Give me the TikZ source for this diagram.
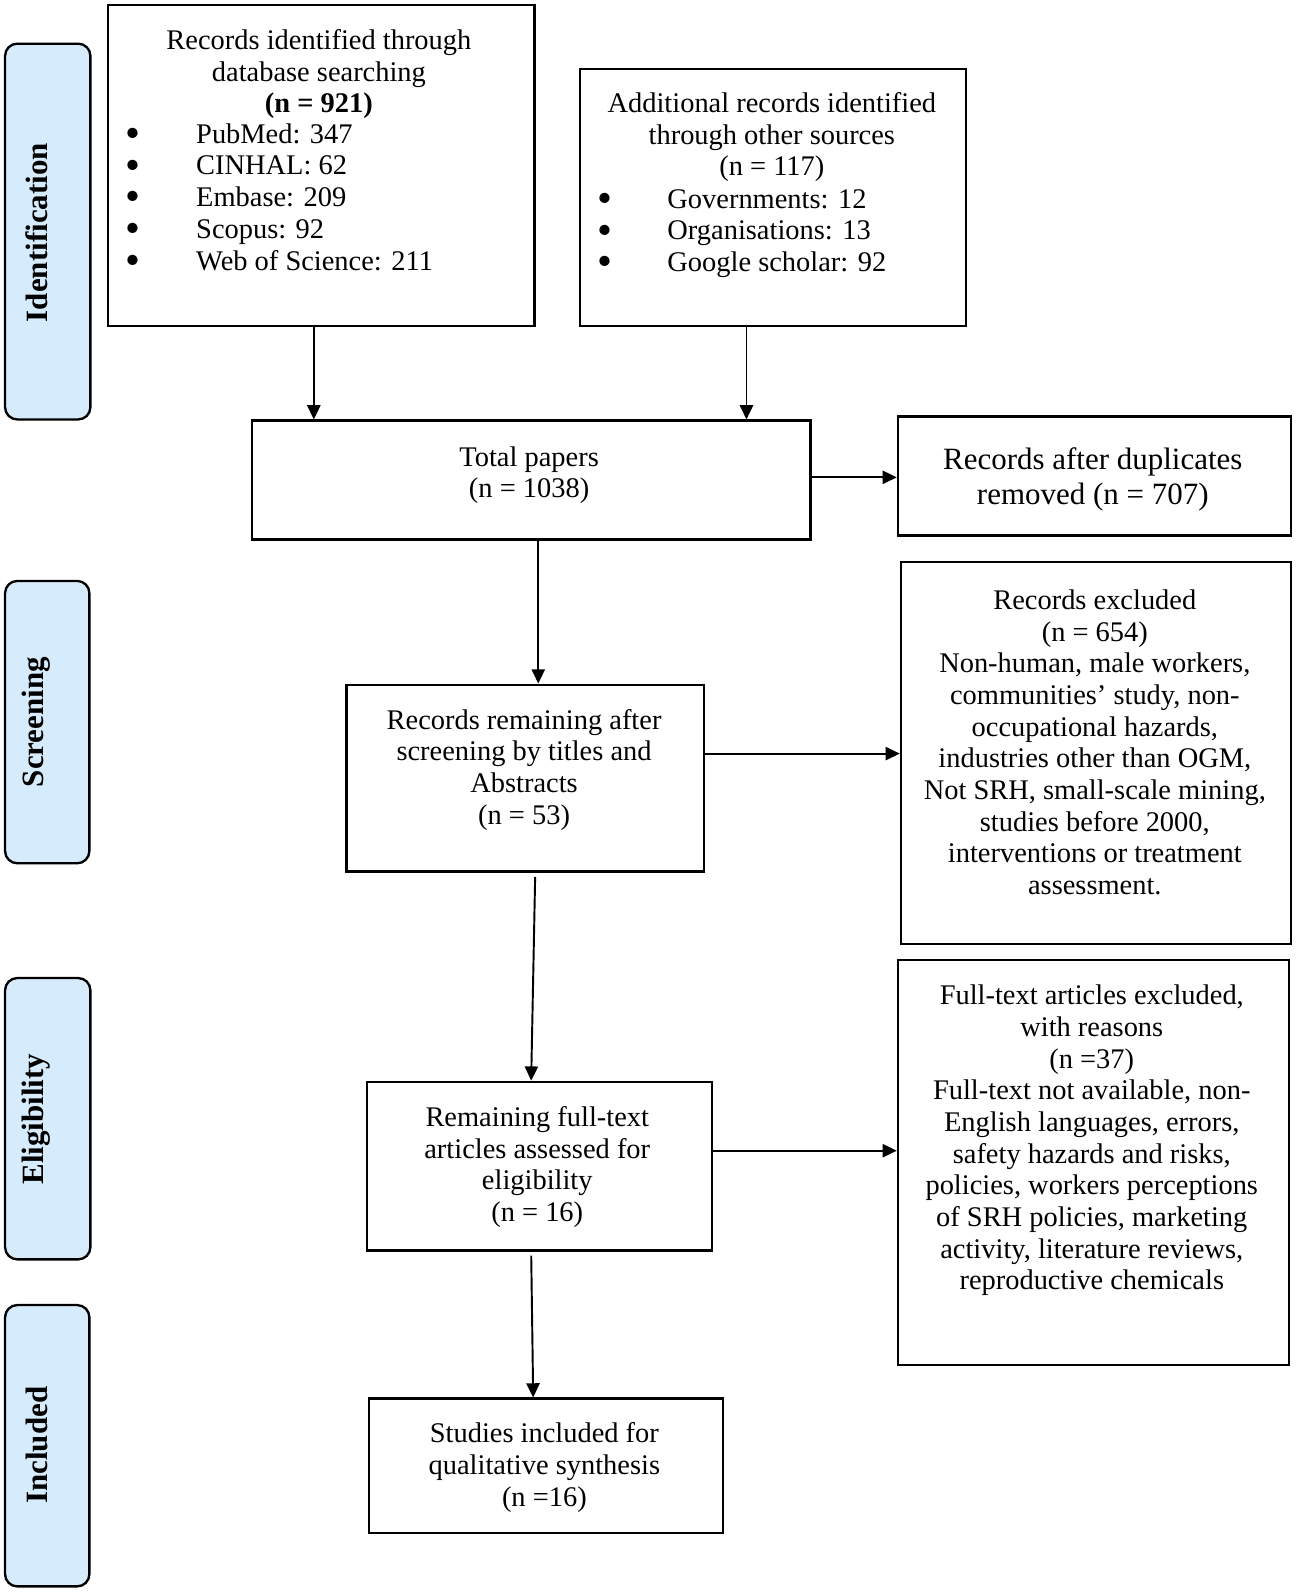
\documentclass[tikz,border=0pt]{standalone}
\usepackage{fontspec}
\setmainfont{Liberation Serif}
\usetikzlibrary{arrows.meta,calc}
\definecolor{bandblue}{RGB}{214,235,251}
\newcommand{\mybul}{\smash{\raisebox{-4pt}{\fontsize{42}{0}\selectfont•}}}
\begin{document}
\begin{tikzpicture}[x=1pt,y=-1pt,
  boxst/.style={draw=black,line width=2.3pt,rectangle,inner sep=0pt,anchor=north west},
  bandst/.style={draw=black,line width=2.3pt,fill=bandblue,rounded corners=12pt},
  txt/.style={align=center,inner sep=0pt,font=\fontsize{28}{31.2}\selectfont},
  lst/.style={align=left,inner sep=0pt,anchor=west,font=\fontsize{28}{31.2}\selectfont},
  bandtxt/.style={rotate=90,inner sep=0pt,font=\fontsize{30.5}{34}\selectfont\bfseries},
  arr/.style={line width=1.9pt,-{Triangle[length=14pt,width=13pt]}}]
\useasboundingbox (0,0) rectangle (1280,1569.5);
% side bands
\draw[bandst] (5,43) rectangle (89,413);
\draw[bandst] (5,572) rectangle (88,850);
\draw[bandst] (5,963) rectangle (89,1240);
\draw[bandst] (5,1285) rectangle (88,1562);
\node[bandtxt] (lid) at (36,229) {Identification};
\node[bandtxt] (lsc) at (36,711) {Screening};
\node[bandtxt] (lel) at (36,1102) {Eligibility};
\node[bandtxt] (lin) at (36,1423) {Included};
% boxes
\node[boxst,minimum width=420pt,minimum height=316pt] (b1) at (105,4) {};
\node[boxst,minimum width=380pt,minimum height=253pt] (b2) at (570,67) {};
\node[boxst,minimum width=550pt,minimum height=117pt] (tot) at (247,413) {};
\node[boxst,minimum width=387pt,minimum height=117pt] (dup) at (883,409) {};
\node[boxst,minimum width=352pt,minimum height=184pt] (rem) at (340,673) {};
\node[boxst,minimum width=384pt,minimum height=376pt] (exc) at (886,552) {};
\node[boxst,minimum width=385pt,minimum height=399pt] (ftx) at (883,944) {};
\node[boxst,minimum width=340pt,minimum height=166pt] (ft) at (360,1064) {};
\node[boxst,minimum width=349pt,minimum height=132pt] (inc) at (362,1376) {};
% texts
\node[txt] (t1) at (314,73) {Records identified through\\database searching\\\textbf{(n = 921)}};
\node[lst] (l1) at (123,194) {\makebox[70pt][l]{\mybul}PubMed: 347\\\makebox[70pt][l]{\mybul}CINHAL: 62\\\makebox[70pt][l]{\mybul}Embase: 209\\\makebox[70pt][l]{\mybul}Scopus: 92\\\makebox[70pt][l]{\mybul}Web of Science: 211};
\node[txt] (t2) at (760,135) {Additional records identified\\through other sources\\(n = 117)};
\node[lst] (l2) at (588,230) {\makebox[69pt][l]{\mybul}Governments: 12\\\makebox[69pt][l]{\mybul}Organisations: 13\\\makebox[69pt][l]{\mybul}Google scholar: 92};
\node[txt] (ttot) at (521,468) {Total papers\\(n = 1038)};
\node[txt,font=\fontsize{30.5}{34}\selectfont] (tdup) at (1076,472) {Records after duplicates\\removed (n = 707)};
\node[txt] (trem) at (516,758) {Records remaining after\\screening by titles and\\Abstracts\\(n = 53)};
\node[txt] (texc) at (1078,731) {Records excluded\\(n = 654)\\Non-human, male workers,\\communities’ study, non-\\occupational hazards,\\industries other than OGM,\\Not SRH, small-scale mining,\\studies before 2000,\\interventions or treatment\\assessment.};
\node[txt] (tftx) at (1075,1123) {Full-text articles excluded,\\with reasons\\(n =37)\\Full-text not available, non-\\English languages, errors,\\safety hazards and risks,\\policies, workers perceptions\\of SRH policies, marketing\\activity, literature reviews,\\reproductive chemicals};
\node[txt] (tft) at (529,1149) {Remaining full-text\\articles assessed for\\eligibility\\(n = 16)};
\node[txt] (tinc) at (536,1445) {Studies included for\\qualitative synthesis\\(n =16)};
% connector positions
\coordinate (c1) at (309,0);
\coordinate (c2) at (735,0);
\coordinate (c3) at (0,470);
\coordinate (c4) at (530,0);
\coordinate (c5) at (0,742);
\coordinate (c6a) at (527,0);
\coordinate (c6b) at (523,0);
\coordinate (c7) at (0,1133);
\coordinate (c8a) at (523,0);
\coordinate (c8b) at (525,0);
% connectors
\draw[arr] (b1.south -| c1) -- (tot.north -| c1);
\draw[arr] (b2.south -| c2) -- (tot.north -| c2);
\draw[arr] (tot.east |- c3) -- (dup.west |- c3);
\draw[arr] (tot.south -| c4) -- (rem.north -| c4);
\draw[arr] (rem.east |- c5) -- (exc.west |- c5);
\draw[arr,shorten <=4pt] (rem.south -| c6a) -- (ft.north -| c6b);
\draw[arr] (ft.east |- c7) -- (ftx.west |- c7);
\draw[arr,shorten <=4pt] (ft.south -| c8a) -- (inc.north -| c8b);
\end{tikzpicture}
\end{document}
